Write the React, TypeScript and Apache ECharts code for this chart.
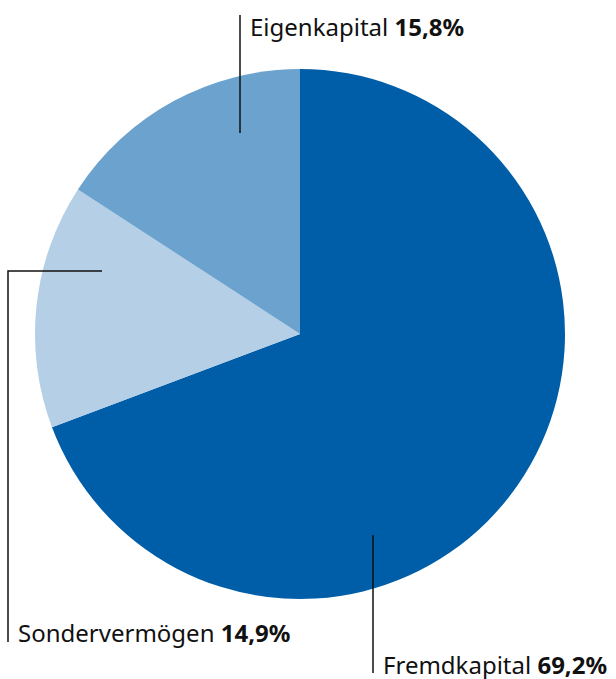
import React, { useEffect, useRef } from "react";
import * as echarts from "echarts";

const categories = ["Fremdkapital", "Sondervermögen", "Eigenkapital"];
const values = [69.2, 14.9, 15.8];
const valueLabels = ["69,2%", "14,9%", "15,8%"];
const colors = ["#005EA8", "#B4CFE6", "#6BA3CE"];

const FONT = "'Noto Sans', 'Open Sans', sans-serif";

function label(x: number, y: number, i: number) {
  return {
    type: "text",
    x,
    y,
    style: {
      text: `{n|${categories[i]} }{v|${valueLabels[i]}}`,
      verticalAlign: "middle",
      align: "left",
      rich: {
        n: { fontFamily: FONT, fontSize: 24, fill: "#111", fontWeight: "normal" },
        v: { fontFamily: FONT, fontSize: 24, fill: "#111", fontWeight: "bold" },
      },
    },
  };
}

function pl(points: number[][]) {
  return {
    type: "polyline",
    shape: { points },
    style: { stroke: "#111", lineWidth: 1.5, fill: null },
    z: 10,
  };
}

export default function App() {
  const ref = useRef<HTMLDivElement>(null);
  useEffect(() => {
    const chart = echarts.init(ref.current!, null, { renderer: "svg" });
    chart.setOption({
      animation: false,
      backgroundColor: "#ffffff",
      series: [
        {
          type: "pie",
          center: [300, 334],
          radius: 265,
          startAngle: 90,
          clockwise: true,
          label: { show: false },
          labelLine: { show: false },
          silent: true,
          itemStyle: { borderWidth: 0 },
          data: categories.map((c, i) => ({
            name: c,
            value: values[i],
            itemStyle: { color: colors[i] },
          })),
        },
      ],
      graphic: [
        pl([[240, 15], [240, 133]]),
        label(250, 26, 2),
        pl([[102, 271], [8, 271], [8, 642]]),
        label(18, 632, 1),
        pl([[373, 535], [373, 673]]),
        label(383, 664, 0),
      ],
    });
    return () => chart.dispose();
  }, []);
  return (
    <div
      ref={ref}
      style={{ position: "fixed", left: 0, top: 0, width: 616, height: 679 }}
    />
  );
}
